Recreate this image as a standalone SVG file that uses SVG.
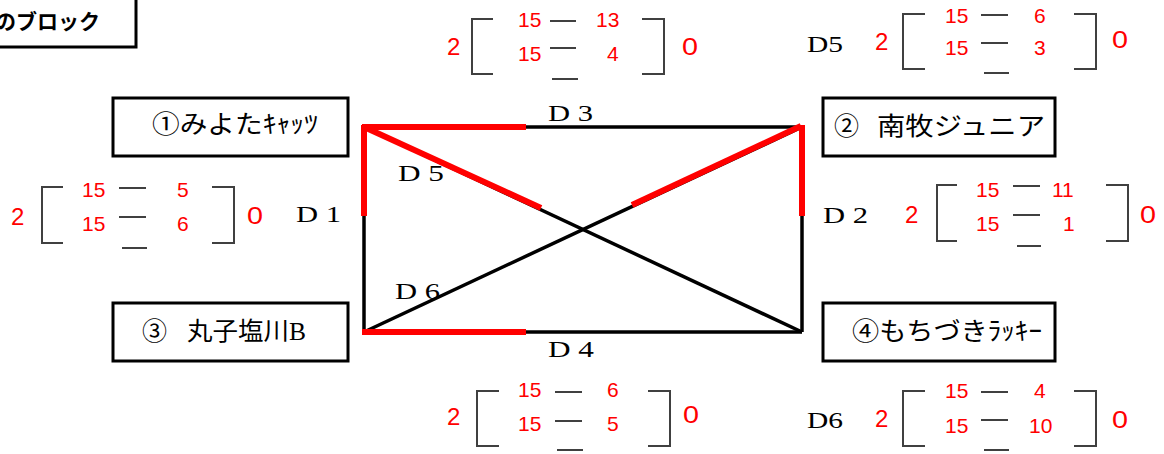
<svg xmlns="http://www.w3.org/2000/svg" width="1164" height="454" viewBox="0 0 1164 454">
<style>
.box{fill:#fff;stroke:#000;stroke-width:3}
.nt{font-family:"Liberation Serif","Noto Sans CJK JP",serif;font-size:25px;fill:#000}
.dl{font-family:"Liberation Serif",serif;font-size:24px;fill:#000}
.sc{font-family:"Liberation Sans","Noto Sans",sans-serif;font-size:21px;fill:#ff0000}
.big{font-size:24px}
.br{fill:none;stroke:#404040;stroke-width:2}
.blk{stroke:#000;stroke-width:3.5;fill:none}
.red{stroke:#ff0000;stroke-width:6;fill:none}
</style>
<rect width="1164" height="454" fill="#fff"/>
<g id="title">
<rect class="box" x="-5" y="-5" width="141" height="52"/>
<text x="-5" y="29" font-family="Noto Sans CJK JP,sans-serif" font-size="21" font-weight="bold">のブロック</text>
</g>
<g id="connectors">
<line class="blk" x1="364" y1="127" x2="802" y2="127"/>
<line class="blk" x1="364" y1="332" x2="802" y2="332"/>
<line class="blk" x1="364" y1="127" x2="364" y2="332"/>
<line class="blk" x1="802" y1="127" x2="802" y2="332"/>
<line class="blk" x1="364" y1="127" x2="802" y2="332"/>
<line class="blk" x1="364" y1="332" x2="802" y2="127"/>
<line class="red" x1="362" y1="127" x2="526" y2="127"/>
<line class="red" x1="362" y1="332" x2="526" y2="332"/>
<line class="red" x1="364" y1="125" x2="364" y2="216"/>
<line class="red" x1="802" y1="125" x2="802" y2="216"/>
<line class="red" x1="364" y1="127" x2="541" y2="208"/>
<line class="red" x1="632" y1="205" x2="801" y2="126"/>
<text class="dl" x="548" y="121" textLength="45" lengthAdjust="spacingAndGlyphs">D 3</text>
<text class="dl" x="548" y="357" textLength="46" lengthAdjust="spacingAndGlyphs">D 4</text>
<text class="dl" x="398" y="181" textLength="46" lengthAdjust="spacingAndGlyphs">D 5</text>
<text class="dl" x="395" y="299" textLength="45" lengthAdjust="spacingAndGlyphs">D 6</text>
<text class="dl" x="296" y="222" textLength="45" lengthAdjust="spacingAndGlyphs">D 1</text>
<text class="dl" x="823" y="223" textLength="45" lengthAdjust="spacingAndGlyphs">D 2</text>
</g>
<g id="team1">
<rect class="box" x="113" y="98" width="235" height="58"/>
<text class="nt" x="152" y="133" textLength="166" lengthAdjust="spacingAndGlyphs">①みよたｷｬｯﾂ</text>
</g>
<g id="team2">
<rect class="box" x="823" y="98" width="232" height="58"/>
<text class="nt" y="135"><tspan x="834">②</tspan><tspan x="877" textLength="168" lengthAdjust="spacingAndGlyphs">南牧ジュニア</tspan></text>
</g>
<g id="team3">
<rect class="box" x="113" y="303" width="235" height="58"/>
<text class="nt" y="340"><tspan x="142">③</tspan><tspan x="187" textLength="119" lengthAdjust="spacingAndGlyphs">丸子塩川B</tspan></text>
</g>
<g id="team4">
<rect class="box" x="823" y="303" width="232" height="58"/>
<text class="nt" x="852" y="340" textLength="190" lengthAdjust="spacingAndGlyphs">④もちづきﾗｯｷｰ</text>
</g>
<g id="score-d3">
<path class="br" d="M493,19H472V74H493M642,19H664V74H642M550,21H576M550,48H576M552,79H578"/>
<text class="sc big" x="447" y="55">2</text>
<text class="sc" x="518" y="27">15</text>
<text class="sc" x="518" y="61">15</text>
<text class="sc" x="596" y="27">13</text>
<text class="sc" x="607" y="61">4</text>
<text class="sc big" x="682" y="55" textLength="16" lengthAdjust="spacingAndGlyphs">0</text>
</g>
<g id="score-d1">
<path class="br" d="M63,187H42V243H63M212,187H234V243H212M119,188H146M119,217H146M122,248H147"/>
<text class="sc big" x="11" y="225">2</text>
<text class="sc" x="82" y="197">15</text>
<text class="sc" x="82" y="231">15</text>
<text class="sc" x="177" y="197">5</text>
<text class="sc" x="177" y="231">6</text>
<text class="sc big" x="247" y="224" textLength="16" lengthAdjust="spacingAndGlyphs">0</text>
</g>
<g id="score-d5">
<text class="dl" x="807" y="52" textLength="36" lengthAdjust="spacingAndGlyphs">D5</text>
<path class="br" d="M925,14H903V69H925M1074,14H1096V69H1074M981,15H1008M981,43H1008M984,73H1009"/>
<text class="sc big" x="875" y="50">2</text>
<text class="sc" x="945" y="23">15</text>
<text class="sc" x="945" y="55">15</text>
<text class="sc" x="1034" y="23">6</text>
<text class="sc" x="1034" y="55">3</text>
<text class="sc big" x="1112" y="48" textLength="16" lengthAdjust="spacingAndGlyphs">0</text>
</g>
<g id="score-d2">
<path class="br" d="M957,185H937V241H957M1106,185H1128V241H1106M1013,186H1040M1013,215H1040M1017,246H1041"/>
<text class="sc big" x="905" y="223">2</text>
<text class="sc" x="976" y="197">15</text>
<text class="sc" x="976" y="231">15</text>
<text class="sc" x="1052" y="197">11</text>
<text class="sc" x="1063" y="231">1</text>
<text class="sc big" x="1140" y="223" textLength="16" lengthAdjust="spacingAndGlyphs">0</text>
</g>
<g id="score-d4">
<path class="br" d="M499,391H477V446H499M648,391H670V446H648M555,392H582M555,421H582M557,450H583"/>
<text class="sc big" x="447" y="425">2</text>
<text class="sc" x="518" y="397">15</text>
<text class="sc" x="518" y="431">15</text>
<text class="sc" x="607" y="397">6</text>
<text class="sc" x="607" y="431">5</text>
<text class="sc big" x="683" y="423" textLength="16" lengthAdjust="spacingAndGlyphs">0</text>
</g>
<g id="score-d6">
<text class="dl" x="807" y="428" textLength="36" lengthAdjust="spacingAndGlyphs">D6</text>
<path class="br" d="M925,391H903V446H925M1074,391H1096V446H1074M981,392H1008M981,420H1008M984,450H1009"/>
<text class="sc big" x="875" y="427">2</text>
<text class="sc" x="945" y="398">15</text>
<text class="sc" x="945" y="433">15</text>
<text class="sc" x="1034" y="398">4</text>
<text class="sc" x="1029" y="433">10</text>
<text class="sc big" x="1112" y="428" textLength="16" lengthAdjust="spacingAndGlyphs">0</text>
</g>
</svg>
